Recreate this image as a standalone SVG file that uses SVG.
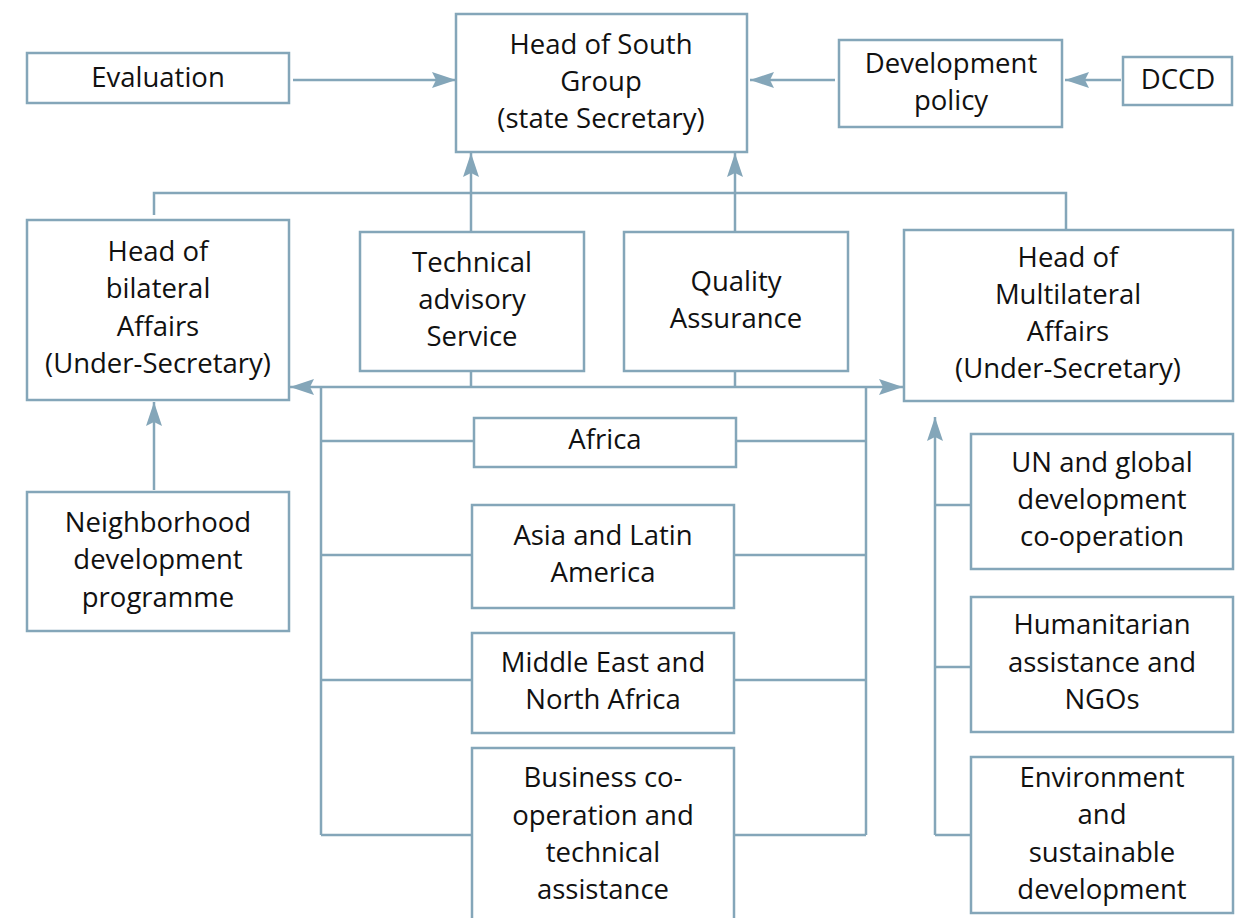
<svg xmlns="http://www.w3.org/2000/svg" width="1242" height="918" viewBox="0 0 1242 918">
  <style>
    .box { fill: #ffffff; stroke: #84a6b9; stroke-width: 2.5; }
    .wire { fill: none; stroke: #84a6b9; stroke-width: 2.5; }
    .lbl { font-family: "Open Sans", "Noto Sans", sans-serif; font-size: 27.5px; fill: #111111; text-anchor: middle; }
  </style>
  <defs>
    <marker id="tipL" viewBox="0 0 24 16" refX="24" refY="8" markerWidth="24" markerHeight="16" markerUnits="userSpaceOnUse" orient="auto">
      <path d="M0,0 L24,8 L0,16 L4,8 Z" fill="#84a6b9"/>
    </marker>
  </defs>

  <!-- connectors -->
  <g id="connectors">
    <path class="wire" d="M293,80 H456" marker-end="url(#tipL)"/>
    <path class="wire" d="M835,80 H750" marker-end="url(#tipL)"/>
    <path class="wire" d="M1121,80 H1065" marker-end="url(#tipL)"/>
    <!-- upper bus -->
    <path class="wire" d="M154,215 V193 H1066 V230"/>
    <path class="wire" d="M471,232 V153" marker-end="url(#tipL)"/>
    <path class="wire" d="M735,232 V153" marker-end="url(#tipL)"/>
    <!-- middle bus -->
    <path class="wire" d="M600,387 H290" marker-end="url(#tipL)"/>
    <path class="wire" d="M600,387 H903" marker-end="url(#tipL)"/>
    <path class="wire" d="M471,371 V387"/>
    <path class="wire" d="M735,371 V387"/>
    <!-- regional departments -->
    <path class="wire" d="M321,387 V835"/>
    <path class="wire" d="M866,387 V835"/>
    <path class="wire" d="M321,441 H474 M736,441 H866"/>
    <path class="wire" d="M321,555 H472 M734,555 H866"/>
    <path class="wire" d="M321,680 H472 M734,680 H866"/>
    <path class="wire" d="M321,835 H472 M734,835 H866"/>
    <!-- neighborhood programme -->
    <path class="wire" d="M154,490 V402" marker-end="url(#tipL)"/>
    <!-- multilateral departments -->
    <path class="wire" d="M935,835 V417" marker-end="url(#tipL)"/>
    <path class="wire" d="M935,505 H971 M935,667 H971 M935,835 H971"/>
  </g>

  <g id="evaluation">
    <rect class="box" x="27" y="53" width="262" height="50"/>
    <text class="lbl" x="158" y="87">Evaluation</text>
  </g>
  <g id="head-south">
    <rect class="box" x="456" y="14" width="291" height="138"/>
    <text class="lbl" x="601" y="54">Head of South</text>
    <text class="lbl" x="601" y="91">Group</text>
    <text class="lbl" x="601" y="128">(state Secretary)</text>
  </g>
  <g id="dev-policy">
    <rect class="box" x="839" y="40" width="223" height="87"/>
    <text class="lbl" x="951" y="73">Development</text>
    <text class="lbl" x="951" y="110">policy</text>
  </g>
  <g id="dccd">
    <rect class="box" x="1123" y="57" width="109" height="48"/>
    <text class="lbl" x="1178" y="89">DCCD</text>
  </g>
  <g id="head-bilateral">
    <rect class="box" x="27" y="220" width="262" height="180"/>
    <text class="lbl" x="158" y="261">Head of</text>
    <text class="lbl" x="158" y="298">bilateral</text>
    <text class="lbl" x="158" y="336">Affairs</text>
    <text class="lbl" x="158" y="373">(Under-Secretary)</text>
  </g>
  <g id="technical">
    <rect class="box" x="360" y="232" width="224" height="139"/>
    <text class="lbl" x="472" y="272">Technical</text>
    <text class="lbl" x="472" y="309">advisory</text>
    <text class="lbl" x="472" y="346">Service</text>
  </g>
  <g id="quality">
    <rect class="box" x="624" y="232" width="224" height="139"/>
    <text class="lbl" x="736" y="291">Quality</text>
    <text class="lbl" x="736" y="328">Assurance</text>
  </g>
  <g id="head-multilateral">
    <rect class="box" x="904" y="230" width="329" height="171"/>
    <text class="lbl" x="1068" y="267">Head of</text>
    <text class="lbl" x="1068" y="304">Multilateral</text>
    <text class="lbl" x="1068" y="341">Affairs</text>
    <text class="lbl" x="1068" y="378">(Under-Secretary)</text>
  </g>
  <g id="africa">
    <rect class="box" x="474" y="418" width="262" height="49"/>
    <text class="lbl" x="605" y="449">Africa</text>
  </g>
  <g id="asia-latin">
    <rect class="box" x="472" y="505" width="262" height="103"/>
    <text class="lbl" x="603" y="545">Asia and Latin</text>
    <text class="lbl" x="603" y="582">America</text>
  </g>
  <g id="mena">
    <rect class="box" x="472" y="633" width="262" height="100"/>
    <text class="lbl" x="603" y="672">Middle East and</text>
    <text class="lbl" x="603" y="709">North Africa</text>
  </g>
  <g id="business">
    <rect class="box" x="472" y="748" width="262" height="180"/>
    <text class="lbl" x="603" y="787">Business co-</text>
    <text class="lbl" x="603" y="825">operation and</text>
    <text class="lbl" x="603" y="862">technical</text>
    <text class="lbl" x="603" y="899">assistance</text>
  </g>
  <g id="neighborhood">
    <rect class="box" x="27" y="492" width="262" height="139"/>
    <text class="lbl" x="158" y="532">Neighborhood</text>
    <text class="lbl" x="158" y="569">development</text>
    <text class="lbl" x="158" y="607">programme</text>
  </g>
  <g id="un-global">
    <rect class="box" x="971" y="434" width="262" height="135"/>
    <text class="lbl" x="1102" y="472">UN and global</text>
    <text class="lbl" x="1102" y="509">development</text>
    <text class="lbl" x="1102" y="546">co-operation</text>
  </g>
  <g id="humanitarian">
    <rect class="box" x="971" y="597" width="262" height="135"/>
    <text class="lbl" x="1102" y="634">Humanitarian</text>
    <text class="lbl" x="1102" y="672">assistance and</text>
    <text class="lbl" x="1102" y="709">NGOs</text>
  </g>
  <g id="environment">
    <rect class="box" x="971" y="757" width="262" height="156"/>
    <text class="lbl" x="1102" y="787">Environment</text>
    <text class="lbl" x="1102" y="824">and</text>
    <text class="lbl" x="1102" y="862">sustainable</text>
    <text class="lbl" x="1102" y="899">development</text>
  </g>
</svg>
